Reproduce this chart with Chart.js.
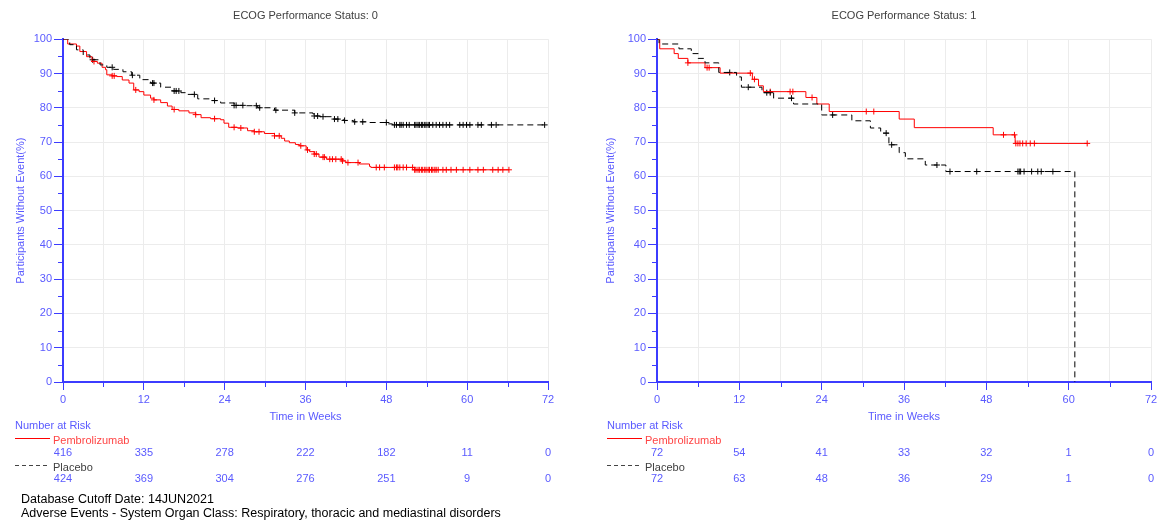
<!DOCTYPE html>
<html><head><meta charset="utf-8">
<script src="https://cdn.jsdelivr.net/npm/chart.js@4.4.1/dist/chart.umd.min.js"></script>
<style>
html,body{margin:0;padding:0;background:#fff;width:1163px;height:520px;overflow:hidden;font-family:"Liberation Sans",Arial,sans-serif}
.wrap{position:absolute;top:0}
.foot{position:absolute;left:21px;font-size:12.5px;color:#000;white-space:nowrap;line-height:14px}
</style></head><body>
<div class="wrap" style="left:0"><canvas id="c0" width="590" height="520"></canvas></div>
<div class="wrap" style="left:590px"><canvas id="c1" width="573" height="520"></canvas></div>
<div class="foot" style="top:492px">Database Cutoff Date: 14JUN2021</div>
<div class="foot" style="top:506px">Adverse Events - System Organ Class: Respiratory, thoracic and mediastinal disorders</div>
<script>
// ---------- DATA ----------
const timeTicks = [0, 12, 24, 36, 48, 60, 72];
const panelTitles = ['ECOG Performance Status: 0', 'ECOG Performance Status: 1'];
const armNames = ['Pembrolizumab', 'Placebo'];
const yTitle = 'Participants Without Event(%)';
const xTitle = 'Time in Weeks';
const riskTitle = 'Number at Risk';

// ECOG 0 - Pembrolizumab (event time, survival after event)
const ps0PembroT = [0, 0.7, 2.0, 2.5, 3.5, 4.3, 5.1, 5.8, 6.3, 6.5, 7.3, 8.0, 8.8, 9.8, 10.5, 11.3, 12.0, 13.0, 13.5, 14.5, 15.5, 16.2, 17.2, 18.7, 19.7, 20.5, 21.9, 23.4, 23.9, 24.6, 25.9, 27.4, 28.4, 29.9, 31.4, 32.4, 32.9, 33.6, 34.5, 35.1, 36.1, 36.6, 37.3, 38.0, 39.1, 41.5, 42.0, 44.0, 45.5, 45.7, 52.2, 66.2];
const ps0PembroS = [100, 98.6, 98.0, 96.4, 94.9, 93.5, 93.0, 91.8, 91.1, 89.6, 89.3, 89.1, 88.1, 87.2, 85.2, 84.7, 83.7, 82.8, 82.3, 81.5, 80.5, 79.5, 79.1, 78.5, 78.0, 77.1, 76.8, 76.5, 75.5, 74.3, 74.1, 73.3, 73.0, 72.5, 71.8, 71.1, 70.3, 69.8, 69.3, 68.9, 67.7, 67.2, 66.5, 65.6, 65.0, 64.5, 64.0, 63.6, 62.9, 62.6, 61.9, 61.9];
const ps0PembroCens = [4.6, 7.3, 7.6, 10.8, 13.5, 16.5, 19.7, 22.5, 25.4, 26.4, 28.4, 29.1, 31.4, 32.1, 35.3, 36.3, 37.3, 37.6, 38.6, 38.8, 39.6, 40.0, 40.5, 41.3, 41.5, 42.3, 43.8, 46.5, 47.0, 47.7, 49.2, 49.5, 49.7, 50.0, 50.5, 51.0, 51.9, 52.2, 52.4, 52.7, 52.9, 53.2, 53.4, 53.7, 53.9, 54.2, 54.4, 54.7, 54.9, 55.2, 55.4, 55.7, 56.4, 56.9, 57.6, 58.4, 59.4, 60.4, 61.6, 62.4, 63.8, 64.6, 65.3, 66.2];

// ECOG 0 - Placebo
const ps0PlaceboT = [0, 1.0, 2.0, 3.0, 4.0, 5.5, 6.5, 7.5, 8.9, 10.2, 11.4, 13.0, 14.5, 16.2, 17.5, 18.5, 20.0, 21.9, 23.4, 25.4, 26.9, 28.9, 31.4, 34.4, 37.1, 37.3, 38.1, 40.1, 41.6, 43.1, 45.1, 48.1, 48.9, 71.5];
const ps0PlaceboS = [100, 98.4, 96.9, 95.4, 94.0, 92.5, 91.8, 91.2, 90.5, 89.5, 88.2, 87.2, 86.0, 84.9, 84.4, 83.9, 82.6, 82.1, 81.4, 80.7, 80.6, 80.0, 79.3, 78.5, 78.2, 77.6, 77.4, 76.7, 76.3, 75.9, 75.7, 75.3, 75.0, 75.0];
const ps0PlaceboCens = [4.4, 7.3, 10.3, 13.3, 13.5, 16.5, 16.8, 17.2, 19.5, 22.5, 25.4, 25.7, 26.7, 28.7, 29.2, 31.6, 34.4, 37.3, 37.8, 38.6, 40.3, 40.8, 41.8, 43.3, 44.5, 48.0, 49.2, 49.5, 50.0, 50.2, 50.5, 51.0, 51.4, 52.2, 52.4, 52.7, 52.9, 53.2, 53.4, 53.7, 53.9, 54.2, 54.4, 54.9, 55.4, 55.9, 56.4, 56.9, 57.4, 58.9, 59.4, 59.9, 60.4, 61.6, 62.1, 63.6, 64.3, 71.5];

// ECOG 1 - Pembrolizumab
const ps1PembroT = [0, 0.4, 2.5, 3.1, 4.5, 7.0, 9.2, 13.9, 14.8, 15.5, 21.7, 23.3, 25.1, 35.3, 37.5, 49.0, 52.2, 62.7];
const ps1PembroS = [100, 97.2, 95.8, 94.4, 93.1, 91.7, 90.1, 88.3, 86.4, 84.7, 83.0, 81.1, 78.9, 76.7, 74.2, 72.1, 69.6, 69.6];
const ps1PembroCens = [4.5, 7.3, 7.6, 13.6, 14.2, 16.5, 19.4, 19.8, 22.6, 30.5, 31.6, 50.5, 52.1, 52.3, 52.6, 52.9, 53.3, 53.8, 54.4, 55.0, 62.7];

// ECOG 1 - Placebo
const ps1PlaceboT = [0, 0.3, 3.2, 5.0, 6.0, 7.0, 9.0, 11.6, 12.3, 15.3, 17.0, 19.9, 24.0, 28.4, 31.1, 32.6, 33.8, 35.3, 36.2, 39.1, 42.1, 60.9];
const ps1PlaceboS = [100, 98.6, 97.2, 95.8, 94.4, 93.1, 90.3, 89.0, 86.0, 84.4, 82.8, 81.1, 77.9, 76.2, 74.1, 72.6, 69.2, 66.9, 65.1, 63.3, 61.4, 0];
const ps1PlaceboCens = [10.6, 13.3, 16.0, 16.5, 19.6, 25.6, 33.4, 34.2, 40.8, 42.7, 46.6, 52.6, 52.8, 53.0, 53.5, 54.6, 55.5, 56.0, 57.7];

// Number at risk
const ps0PembroRisk = [416, 335, 278, 222, 182, 11, 0];
const ps0PlaceboRisk = [424, 369, 304, 276, 251, 9, 0];
const ps1PembroRisk = [72, 54, 41, 33, 32, 1, 0];
const ps1PlaceboRisk = [72, 63, 48, 36, 29, 1, 0];

// ---------- STYLE ----------
const FONT = '"Liberation Sans", Arial, sans-serif';
const BLUE = '#5a5aff';
const AXIS = '#3c3cff';
const GRID = '#ececec';
const RED = '#ff0000';

function pts(ts, ss) { return ts.map((t, i) => ({x: t, y: ss[i]})); }
function stepAt(ts, ss, t) { let v = ss[0]; for (let i = 0; i < ts.length; i++) { if (ts[i] <= t) v = ss[i]; else break; } return v; }
function censPts(cs, ts, ss) { return cs.map(t => ({x: t, y: stepAt(ts, ss, t)})); }

const extras = {
  id: 'extras',
  afterDraw(chart, args, o) {
    const {ctx, chartArea: ca, scales: {x, y}} = chart;
    ctx.save();
    ctx.strokeStyle = AXIS; ctx.lineWidth = 1;
    for (let v = 5; v < 100; v += 10) {
      const py = Math.round(y.getPixelForValue(v)) + 0.5;
      ctx.beginPath(); ctx.moveTo(ca.left - 5, py); ctx.lineTo(ca.left, py); ctx.stroke();
    }
    for (let v = 6; v < 72; v += 12) {
      const px = Math.round(x.getPixelForValue(v)) + 0.5;
      ctx.beginPath(); ctx.moveTo(px, ca.bottom); ctx.lineTo(px, ca.bottom + 5); ctx.stroke();
    }
    ctx.font = '11px ' + FONT;
    ctx.textBaseline = 'middle';
    ctx.textAlign = 'left';
    ctx.fillStyle = BLUE;
    ctx.fillText(riskTitle, o.tx, 426);
    // legend Pembrolizumab
    ctx.strokeStyle = RED; ctx.setLineDash([]);
    ctx.beginPath(); ctx.moveTo(o.tx, 438.5); ctx.lineTo(o.tx + 35, 438.5); ctx.stroke();
    ctx.fillStyle = '#ff4545';
    ctx.fillText(armNames[0], o.tx + 38, 441);
    // legend Placebo
    ctx.strokeStyle = '#444'; ctx.setLineDash([4, 3]);
    ctx.beginPath(); ctx.moveTo(o.tx, 465.5); ctx.lineTo(o.tx + 35, 465.5); ctx.stroke();
    ctx.setLineDash([]);
    ctx.fillStyle = '#404040';
    ctx.fillText(armNames[1], o.tx + 38, 467.5);
    ctx.textAlign = 'center';
    ctx.fillStyle = BLUE;
    timeTicks.forEach((t, i) => {
      const px = x.getPixelForValue(t);
      ctx.fillText(String(o.r1[i]), px, 452.5);
      ctx.fillText(String(o.r2[i]), px, 479);
    });
    ctx.restore();
  }
};

function makeChart(id, title, pembroT, pembroS, pembroC, placT, placS, placC, r1, r2, yW, yTitlePad, padR, tx) {
  return new Chart(document.getElementById(id), {
    type: 'line',
    data: {
      datasets: [
        {data: pts(placT, placS), borderColor: '#000', borderWidth: 1, borderDash: [6, 4], stepped: true, pointRadius: 0, fill: false},
        {data: pts(pembroT, pembroS), borderColor: RED, borderWidth: 1, stepped: true, pointRadius: 0, fill: false},
        {data: censPts(placC, placT, placS), showLine: false, pointStyle: 'cross', pointRadius: 3, borderColor: '#000', borderWidth: 1},
        {data: censPts(pembroC, pembroT, pembroS), showLine: false, pointStyle: 'cross', pointRadius: 3, borderColor: RED, borderWidth: 1}
      ]
    },
    options: {
      responsive: false, animation: false, devicePixelRatio: 1,
      layout: {padding: {left: 0, right: padR, top: 0, bottom: 94}},
      scales: {
        x: {
          type: 'linear', min: 0, max: 72,
          ticks: {stepSize: 6, autoSkip: false, maxRotation: 0, color: BLUE, font: {size: 11, family: FONT}, padding: 3,
                  callback: v => (v % 12 === 0 ? String(v) : '')},
          grid: {color: GRID, lineWidth: 1, tickLength: 8,
                 tickColor: c => (c.tick && c.tick.value % 12 === 0 ? AXIS : 'rgba(0,0,0,0)')},
          border: {color: AXIS, width: 2},
          title: {display: true, text: xTitle, color: BLUE, font: {size: 11, family: FONT}, padding: {top: 0, bottom: 2}},
          afterFit: s => { s.height = 44; }
        },
        y: {
          type: 'linear', min: 0, max: 100,
          ticks: {stepSize: 5, autoSkip: false, color: BLUE, font: {size: 11, family: FONT}, padding: 2,
                  callback: v => (v % 10 === 0 ? String(v) : '')},
          grid: {lineWidth: 1, tickLength: 9,
                 color: c => (c.tick && c.tick.value % 10 === 0 ? GRID : 'rgba(0,0,0,0)'),
                 tickColor: c => (c.tick && c.tick.value % 10 === 0 ? AXIS : 'rgba(0,0,0,0)')},
          border: {color: AXIS, width: 2},
          title: {display: true, text: yTitle, color: BLUE, font: {size: 11, family: FONT}, padding: {top: yTitlePad, bottom: 0}},
          afterFit: s => { s.width = yW; }
        }
      },
      plugins: {
        legend: {display: false},
        tooltip: {enabled: false},
        title: {display: true, text: title, color: '#404040', fullSize: false,
                font: {size: 11, weight: 'normal', family: FONT}, padding: {top: 9, bottom: 17}},
        extras: {r1: r1, r2: r2, tx: tx}
      }
    },
    plugins: [extras]
  });
}

makeChart('c0', panelTitles[0], ps0PembroT, ps0PembroS, ps0PembroCens, ps0PlaceboT, ps0PlaceboS, ps0PlaceboCens,
          ps0PembroRisk, ps0PlaceboRisk, 63, 14, 42, 15);
makeChart('c1', panelTitles[1], ps1PembroT, ps1PembroS, ps1PembroCens, ps1PlaceboT, ps1PlaceboS, ps1PlaceboCens,
          ps1PembroRisk, ps1PlaceboRisk, 67, 14, 12, 17);
</script>
</body></html>
